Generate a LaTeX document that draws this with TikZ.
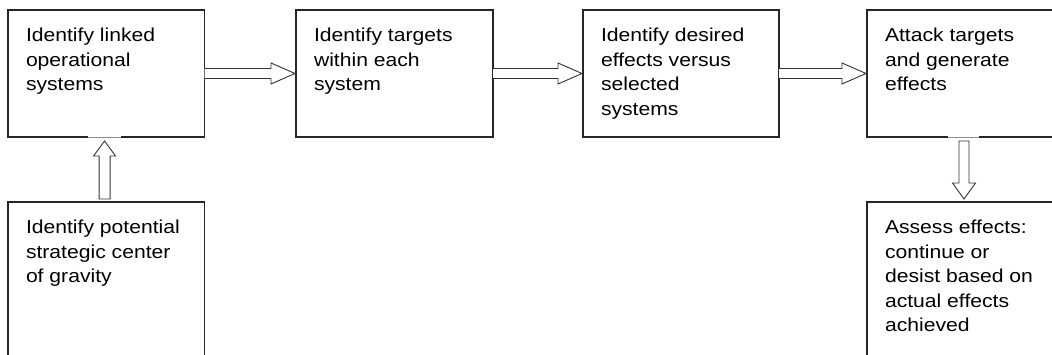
\documentclass[tikz,border=0pt]{standalone}
\usepackage{fontspec}
\setmainfont{Liberation Sans}[FakeStretch=1.13]
\usetikzlibrary{calc}

% text block of fixed size, set from the top left corner
\newcommand{\flowtext}[3]{\parbox[c][#2][t]{#1}{\raggedright\fontsize{18.7pt}{24.5pt}\selectfont #3}}

\begin{document}
\begin{tikzpicture}[x=1pt,y=-1pt,
  stepbox/.style={draw=black!85, line width=1.3pt, fill=white, inner sep=18pt,
    outer sep=0pt, anchor=north west},
  blockarrow/.style={draw=black!80, line width=0.9pt, fill=white, line join=miter},
]
\useasboundingbox (0,0) rectangle (1052,355);

% top row
\node[stepbox] (b1) at (8,10)
  {\flowtext{160.5pt}{91pt}{Identify linked\\operational\\systems}};
\node[stepbox] (b2) at (296,10)
  {\flowtext{161pt}{91pt}{Identify targets\\within each\\system}};
\node[stepbox] (b3) at (583,10)
  {\flowtext{160pt}{91pt}{Identify desired\\effects versus\\selected\\systems}};
\node[stepbox] (b4) at (867,10)
  {\flowtext{174pt}{91pt}{Attack targets\\and generate\\effects}};

% bottom row
\node[stepbox] (b5) at (8,202)
  {\flowtext{160.5pt}{134pt}{Identify potential\\strategic center\\of gravity}};
\node[stepbox] (b6) at (867,202)
  {\flowtext{174pt}{134pt}{Assess effects:\\continue or\\desist based on\\actual effects\\achieved}};

% faded spots on the lower borders where the vertical arrows meet
\draw[white, line width=1.6pt] ($(b1.south west)+(80,0)$) -- ($(b1.south west)+(113,0)$);
\draw[black!45, line width=0.7pt] ($(b1.south west)+(80,0)$) -- ($(b1.south west)+(113,0)$);
\draw[white, line width=1.6pt] ($(b4.south west)+(81,0)$) -- ($(b4.south west)+(112,0)$);
\draw[black!45, line width=0.7pt] ($(b4.south west)+(81,0)$) -- ($(b4.south west)+(112,0)$);

% hollow arrows along the top row
\foreach \s/\t in {b1/b2, b2/b3, b3/b4}{
  \draw[blockarrow] let \p1=(\s.east), \p2=(\t.west) in
    (\x1,\y1+5pt) -- (\x2-25pt,\y1+5pt) -- (\x2-25pt,\y1+10.5pt) -- (\x2-1pt,\y1)
    -- (\x2-25pt,\y1-10.5pt) -- (\x2-25pt,\y1-5pt) -- (\x1,\y1-5pt);
}

% hollow arrow up from the centre of gravity box
\draw[blockarrow] let \p1=($(b5.north)+(-1.7,0)$), \p2=($(b1.south)+(-1.7,0)$) in
  (\x1-5.5pt,\y1+3pt) -- (\x1-5.5pt,\y2-19pt) -- (\x1-11pt,\y2-19pt) -- (\x1,\y2-4pt)
  -- (\x1+11pt,\y2-19pt) -- (\x1+5.5pt,\y2-19pt) -- (\x1+5.5pt,\y1+3pt) -- cycle;

% hollow arrow down to the assessment box
\draw[blockarrow] let \p1=($(b4.south west)+(97,0)$), \p2=($(b6.north west)+(97,0)$) in
  (\x1-5pt,\y1-4pt) -- (\x1-5pt,\y2+19pt) -- (\x1-11.5pt,\y2+19pt) -- (\x1,\y2+3pt)
  -- (\x1+11.5pt,\y2+19pt) -- (\x1+5pt,\y2+19pt) -- (\x1+5pt,\y1-4pt) -- cycle;
\end{tikzpicture}
\end{document}
